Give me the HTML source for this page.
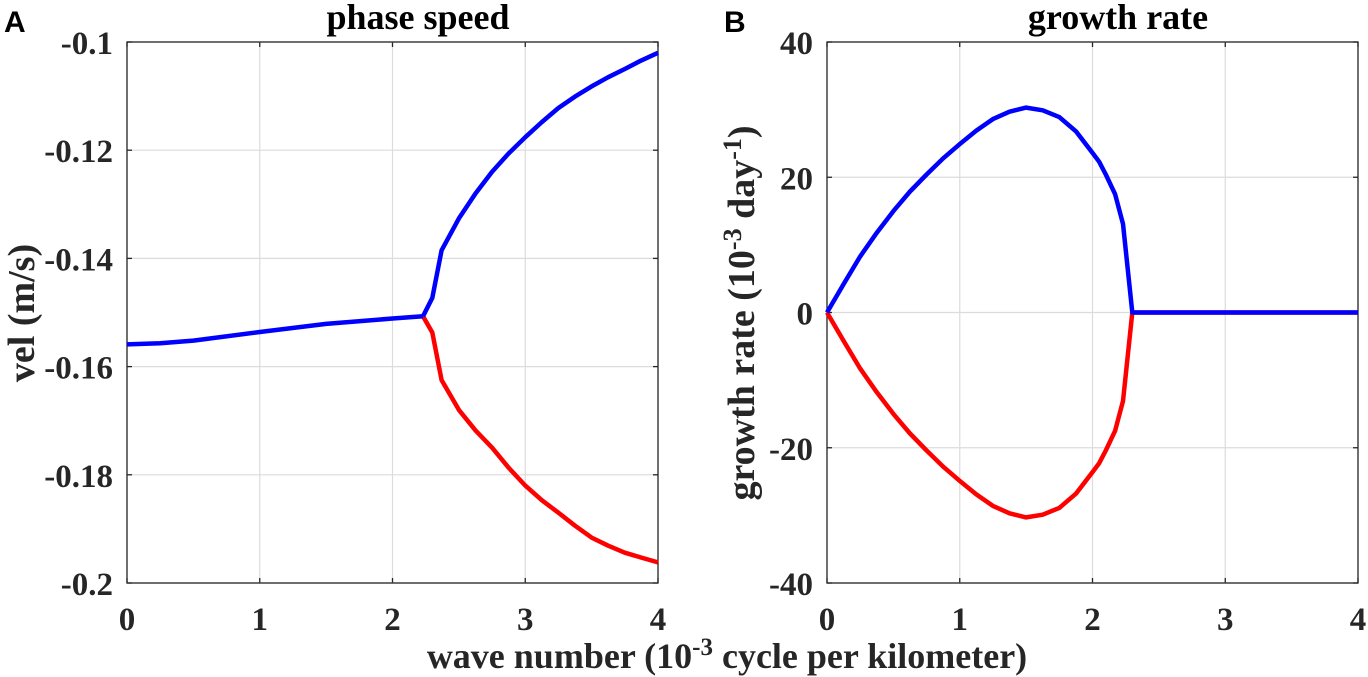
<!DOCTYPE html>
<html><head><meta charset="utf-8"><style>
body{margin:0;background:#fff}
svg{display:block}
text{font-family:"Liberation Serif",serif;font-weight:bold;fill:#262626}
.tk{font-size:33px}
</style></head><body>
<svg id="c" width="1368" height="677">
<text x="4" y="32" style="font-family:'Liberation Sans',sans-serif;font-size:30px;fill:#000">A</text>
<text x="724" y="32" style="font-family:'Liberation Sans',sans-serif;font-size:30px;fill:#000">B</text>
<text x="418" y="29" text-anchor="middle" style="font-size:36px;fill:#000">phase speed</text>
<text x="1118" y="29" text-anchor="middle" style="font-size:36px;fill:#000">growth rate</text>
<text x="727" y="668" text-anchor="middle" style="font-size:36px">wave number (10<tspan dy="-13" font-size="25">-3</tspan><tspan dy="13"> cycle per kilometer)</tspan></text>
<text transform="translate(34,313) rotate(-90)" text-anchor="middle" style="font-size:38px">vel (m/s)</text>
<text transform="translate(754,313) rotate(-90)" text-anchor="middle" style="font-size:38px">growth rate (10<tspan dy="-13" font-size="26">-3</tspan><tspan dy="13"> day</tspan><tspan dy="-13" font-size="26">-1</tspan><tspan dy="13">)</tspan></text>
</svg>
<script>
const xTicks=[0,1,2,3,4];
const velTicks=[-0.1,-0.12,-0.14,-0.16,-0.18,-0.2];
const velTickLabels=["-0.1","-0.12","-0.14","-0.16","-0.18","-0.2"];
const grTicks=[40,20,0,-20,-40];
const grTickLabels=["40","20","0","-20","-40"];
const velBaseX=[0,0.25,0.5,1,1.5,2,2.23];
const velBaseY=[-0.1559,-0.1557,-0.1552,-0.1536,-0.1521,-0.1511,-0.1507];
const velSplitX=[2.23,2.3,2.37,2.5,2.625,2.75,2.875,3,3.125,3.25,3.375,3.5,3.625,3.75,3.875,4];
const velBlue=[-0.1507,-0.1473,-0.1385,-0.1326,-0.128,-0.124,-0.1206,-0.1176,-0.1148,-0.1122,-0.1101,-0.1082,-0.1065,-0.105,-0.1034,-0.102];
const velRed=[-0.1507,-0.1537,-0.1625,-0.168,-0.1718,-0.175,-0.1787,-0.182,-0.1847,-0.187,-0.1894,-0.1916,-0.1931,-0.1944,-0.1953,-0.1962];
const grX=[0,0.125,0.25,0.375,0.5,0.625,0.75,0.875,1,1.125,1.25,1.375,1.5,1.625,1.75,1.875,2,2.05,2.1,2.17,2.23,2.3,3,4];
const grBlue=[0,4.2,8.3,11.8,15,17.9,20.4,22.8,24.9,26.9,28.6,29.7,30.3,29.9,28.9,26.8,23.6,22.3,20.4,17.5,13.1,0,0,0];
const grRed=[0,-4.2,-8.3,-11.8,-15,-17.9,-20.4,-22.8,-24.9,-26.9,-28.6,-29.7,-30.3,-29.9,-28.9,-26.8,-23.6,-22.3,-20.4,-17.5,-13.1,0,0,0];
const svg=document.getElementById('c');const NS='http://www.w3.org/2000/svg';
function mk(t,a){const e=document.createElementNS(NS,t);for(const k in a)e.setAttribute(k,a[k]);svg.appendChild(e);return e;}
function panel(x0,x1,yMin,yMax,yT,yL,name){
  const top=42,bot=583;
  const sx=v=>x0+(v-0)/(4-0)*(x1-x0);
  const sy=v=>bot-(v-yMin)/(yMax-yMin)*(bot-top);
  xTicks.forEach(t=>{const l=mk('line',{x1:sx(t),x2:sx(t),y1:top,y2:bot,stroke:'#dcdcdc','stroke-width':1.2});
    
    
    mk('line',{x1:sx(t),x2:sx(t),y1:bot,y2:bot-5,stroke:'#262626','stroke-width':1.3});
    mk('line',{x1:sx(t),x2:sx(t),y1:top,y2:top+5,stroke:'#262626','stroke-width':1.3});
    const tx=mk('text',{x:sx(t),y:630,'text-anchor':'middle',class:'tk'});tx.textContent=t;
    
    });
  yT.forEach((t,i)=>{const l=mk('line',{x1:x0,x2:x1,y1:sy(t),y2:sy(t),stroke:'#dcdcdc','stroke-width':1.2});
    
    
    mk('line',{x1:x0,x2:x0+5,y1:sy(t),y2:sy(t),stroke:'#262626','stroke-width':1.3});
    mk('line',{x1:x1,x2:x1-5,y1:sy(t),y2:sy(t),stroke:'#262626','stroke-width':1.3});
    const tx=mk('text',{x:x0-14,y:sy(t)+12,'text-anchor':'end',class:'tk'});tx.textContent=yL[i];
    
    });
  const f=mk('rect',{x:x0,y:top,width:x1-x0,height:bot-top,fill:'none',stroke:'#262626','stroke-width':1.3});
  
  
  return {sx,sy};
}
function line(ax,xs,ys,col,name){
  const d=xs.map((x,i)=>(i?'L':'M')+ax.sx(x).toFixed(1)+' '+ax.sy(ys[i]).toFixed(1)).join(' ');
  const p=mk('path',{d,fill:'none',stroke:col,'stroke-width':4.5,'stroke-linejoin':'round'});
  
  
}
const A=panel(127,658,-0.2,-0.1,velTicks,velTickLabels,'phase-speed-plot');
line(A,velSplitX,velRed,'#ff0000','phase-speed-red-line');
line(A,velBaseX,velBaseY,'#0000ff','phase-speed-base-line');
line(A,velSplitX,velBlue,'#0000ff','phase-speed-blue-line');
const B=panel(827,1358,-40,40,grTicks,grTickLabels,'growth-rate-plot');
line(B,grX,grRed,'#ff0000','growth-rate-red-line');
line(B,grX,grBlue,'#0000ff','growth-rate-blue-line');
</script>
</body></html>
